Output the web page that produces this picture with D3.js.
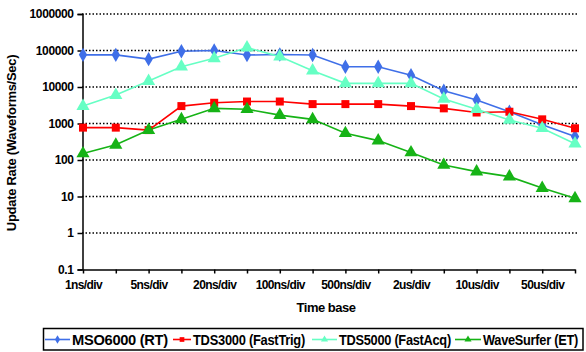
<!DOCTYPE html>
<html><head><meta charset="utf-8">
<script src="https://cdn.jsdelivr.net/npm/d3@7"></script>
<style>
html,body{margin:0;padding:0;background:#fff;}
text{font-family:"Liberation Sans",Arial,sans-serif;font-weight:bold;fill:#000;}
</style></head>
<body><svg id="c" width="586" height="352"></svg>
<script>
const categories = ["1ns/div","2ns/div","5ns/div","10ns/div","20ns/div","50ns/div","100ns/div","200ns/div","500ns/div","1us/div","2us/div","5us/div","10us/div","20us/div","50us/div","100us/div"];
const tickLabels = ["1ns/div","5ns/div","20ns/div","100ns/div","500ns/div","2us/div","10us/div","50us/div"];
const yTicks = [0.1,1,10,100,1000,10000,100000,1000000];
const seriesNames = ["MSO6000 (RT)","TDS3000 (FastTrig)","TDS5000 (FastAcq)","WaveSurfer (ET)"];
const mso6000 = [76000,76000,58000,95000,100000,75000,78000,75000,36000,36000,21000,7900,4400,2100,920,440];
const tds3000 = [770,770,660,3000,3700,4000,4000,3400,3400,3400,3000,2600,2000,2100,1300,740];
const tds5000 = [3000,6000,14500,36000,61000,120000,68000,28000,12600,12600,12600,4700,2450,1250,740,280];
const waveSurfer = [150,260,660,1300,2600,2450,1700,1300,540,340,160,73,48,35,17,8.9];

const seriesData = [mso6000, tds3000, tds5000, waveSurfer];
const colors = ["#3f6fe8","#ff0000","#66ffc4","#16b316"];
const shapes = [d3.symbolDiamond, d3.symbolSquare, d3.symbolTriangle, d3.symbolTriangle];
const sizes = [60, 64, 75, 75];

const svg = d3.select("#c");
const x = d3.scalePoint().domain(categories).range([83, 575]);
const y = d3.scaleLog().domain([0.1, 1e6]).range([269.5, 14]);

// gridlines
svg.append("g").selectAll("line").data(yTicks.filter(v=>v>0.1)).join("line")
  .attr("x1", 82).attr("x2", 578)
  .attr("y1", d=>y(d)).attr("y2", d=>y(d))
  .attr("stroke", "#000").attr("stroke-width", 1.3).attr("stroke-dasharray", "1.5,2");

// y axis
const ya = svg.append("g").attr("transform","translate(82.5,0)")
  .call(d3.axisLeft(y).tickValues(yTicks).tickFormat(d=> d<1 ? "0.1" : String(d)).tickSize(5).tickPadding(4));
ya.select(".domain").attr("stroke","#000").attr("stroke-width",1.5);
ya.selectAll(".tick line").attr("stroke","#000").attr("stroke-width",1.5);
ya.selectAll(".tick text").style("font-size","12px").style("letter-spacing","-0.4px").attr("fill","#000");

// x axis
const xa = svg.append("g").attr("transform","translate(0,269.5)")
  .call(d3.axisBottom(x).tickFormat(d=> tickLabels.includes(d) ? d : "").tickSize(4).tickSizeOuter(0).tickPadding(7));
xa.select(".domain").attr("stroke","#000").attr("stroke-width",1.5);
xa.selectAll(".tick line").attr("stroke","#000").attr("stroke-width",1.5);
xa.selectAll(".tick text").style("font-size","12px").style("letter-spacing","-0.6px").attr("fill","#000");

// axis titles
svg.append("text").attr("x", 326).attr("y", 312).attr("text-anchor","middle")
  .style("font-size","13px").style("letter-spacing","-0.5px").text("Time base");
svg.append("text").attr("transform","translate(16,143) rotate(-90)").attr("text-anchor","middle")
  .style("font-size","13px").style("letter-spacing","-0.3px").text("Update Rate (Waveforms/Sec)");

// series
const line = d3.line().x((d,i)=>x(categories[i])).y(d=>y(d));
seriesData.forEach((s,k)=>{
  svg.append("path").datum(s).attr("d", line).attr("fill","none")
    .attr("stroke", colors[k]).attr("stroke-width", 1.6);
});
seriesData.forEach((s,k)=>{
  svg.append("g").selectAll("path").data(s).join("path")
    .attr("transform",(d,i)=>`translate(${x(categories[i])},${y(d)})`)
    .attr("d", d3.symbol().type(shapes[k]).size(sizes[k]))
    .attr("fill", colors[k]);
});

// legend
const lg = svg.append("g");
lg.append("rect").attr("x",43.5).attr("y",328.5).attr("width",539.5).attr("height",21.5)
  .attr("fill","#fff").attr("stroke","#000").attr("stroke-width",1.5);
const legX = [45, 173, 312, 455];
const legW = [25, 18, 25, 26];
const legTW = [96, 112, 112, 95];
seriesNames.forEach((n,k)=>{
  const cx = legX[k] + legW[k]/2;
  lg.append("line").attr("x1",legX[k]).attr("x2",legX[k]+legW[k]).attr("y1",339.5).attr("y2",339.5)
    .attr("stroke",colors[k]).attr("stroke-width",1.6);
  lg.append("path").attr("transform",`translate(${cx},339.5)`)
    .attr("d", d3.symbol().type(shapes[k]).size(22)).attr("fill",colors[k]);
  const t = lg.append("text").attr("x",0).attr("y",0)
    .style("font-size","14.5px").style("letter-spacing","-0.3px").text(n);
  const w = t.node().getComputedTextLength();
  const sx = legTW[k] / w;
  t.attr("transform", `translate(${legX[k]+legW[k]+2},345) scale(${sx},1)`);
});
</script></body></html>
